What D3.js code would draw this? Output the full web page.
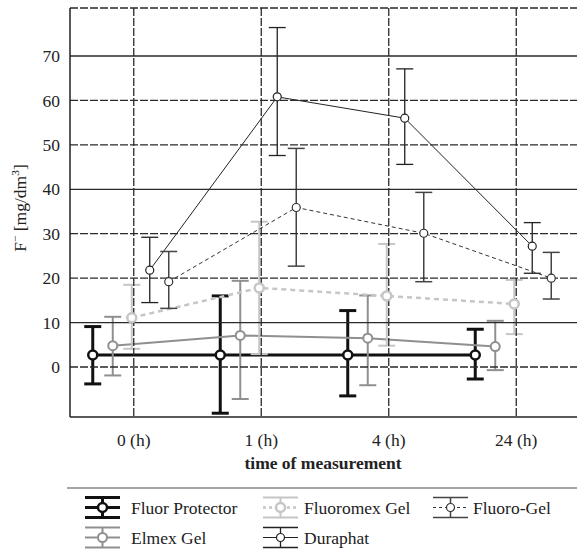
<!DOCTYPE html>
<html>
<head>
<meta charset="utf-8">
<script src="https://cdn.jsdelivr.net/npm/d3@7"></script>
<style>
  body { margin: 0; background: #fff; }
</style>
</head>
<body>
<svg width="577" height="555"></svg>
<script>
// data
let times = ['0 (h)', '1 (h)', '4 (h)', '24 (h)'];
let yTicks = [0, 10, 20, 30, 40, 50, 60, 70];
let seriesNames = ['Fluor Protector', 'Elmex Gel', 'Fluoromex Gel', 'Duraphat', 'Fluoro-Gel'];

let fluorProtectorMean = [2.7, 2.7, 2.7, 2.7];
let fluorProtectorHigh = [9.1, 16.0, 12.7, 8.5];
let fluorProtectorLow = [-3.8, -10.4, -6.5, -2.7];

let elmexMean = [4.8, 7.1, 6.5, 4.6];
let elmexHigh = [11.3, 19.4, 16.1, 10.4];
let elmexLow = [-1.9, -7.2, -4.1, -0.7];

let fluoromexMean = [11.1, 17.8, 16.0, 14.2];
let fluoromexHigh = [18.5, 32.7, 27.7, 19.6];
let fluoromexLow = [4.1, 2.9, 4.8, 7.4];

let duraphatMean = [21.8, 60.8, 56.0, 27.2];
let duraphatHigh = [29.2, 76.4, 67.1, 32.5];
let duraphatLow = [14.5, 47.6, 45.6, 21.1];

let fluoroGelMean = [19.2, 35.9, 30.1, 20.0];
let fluoroGelHigh = [26.0, 49.2, 39.3, 25.8];
let fluoroGelLow = [13.2, 22.7, 19.2, 15.3];

let svg = d3.select('svg');
let padLeft = 70, padRight = 580, padTop = 8, padBottom = 417;
let fs = 17.5;
let serif = "'Liberation Serif', Tinos, 'Noto Serif', FreeSerif, 'DejaVu Serif', serif";

let xScale = d3.scaleBand().domain(times).range([padLeft, padRight]);
let yScale = d3.scaleLinear().domain([-11.25, 80.8]).range([padBottom, padTop]);
let xc = t => xScale(t) + xScale.bandwidth() / 2;

// horizontal shift of each series inside a time slot
let offsets = [-41, -21, -2, 16, 35];
let styles = [
    { color: '#111', bar: '#111', width: 3, barWidth: 3, dash: null, r: 4.5 },
    { color: '#8f8f8f', bar: '#8f8f8f', width: 2, barWidth: 2, dash: null, r: 4.5 },
    { color: '#c6c6c6', bar: '#c6c6c6', width: 2.5, barWidth: 2, dash: '5,4', r: 4.5 },
    { color: '#222', bar: '#222', width: 1, barWidth: 1.3, dash: null, r: 4 },
    { color: '#333', bar: '#444', width: 1, barWidth: 1.5, dash: '4,3', r: 4 }
];

let series = [
    [fluorProtectorMean, fluorProtectorHigh, fluorProtectorLow],
    [elmexMean, elmexHigh, elmexLow],
    [fluoromexMean, fluoromexHigh, fluoromexLow],
    [duraphatMean, duraphatHigh, duraphatLow],
    [fluoroGelMean, fluoroGelHigh, fluoroGelLow]
].map((s, i) => ({
    name: seriesNames[i],
    style: styles[i],
    points: times.map((t, j) => ({ t: t, x: xc(t) + offsets[i], mean: s[0][j], hi: s[1][j], lo: s[2][j] }))
}));

let capW = 17;

// lines and error bars
let gSeries = svg.append('g');
series.forEach(s => {
    let st = s.style;
    gSeries.append('path')
        .datum(s.points)
        .attr('fill', 'none')
        .attr('stroke', st.color)
        .attr('stroke-width', st.width)
        .attr('stroke-dasharray', st.dash)
        .attr('d', d3.line().x(d => d.x).y(d => yScale(d.mean)));

    let bars = gSeries.append('g')
        .attr('stroke', st.bar)
        .attr('stroke-width', st.barWidth)
        .selectAll('g')
        .data(s.points)
        .enter()
        .append('g');
    bars.append('line')
        .attr('x1', d => d.x).attr('x2', d => d.x)
        .attr('y1', d => yScale(d.hi)).attr('y2', d => yScale(d.lo));
    bars.append('line')
        .attr('x1', d => d.x - capW / 2).attr('x2', d => d.x + capW / 2)
        .attr('y1', d => yScale(d.hi)).attr('y2', d => yScale(d.hi));
    bars.append('line')
        .attr('x1', d => d.x - capW / 2).attr('x2', d => d.x + capW / 2)
        .attr('y1', d => yScale(d.lo)).attr('y2', d => yScale(d.lo));
});

// grid
let grid = svg.append('g')
    .attr('stroke', '#2a2a2a')
    .attr('stroke-width', 1.3);

grid.selectAll('.hgrid')
    .data(yTicks)
    .enter()
    .append('line')
    .attr('x1', padLeft).attr('x2', padRight)
    .attr('y1', d => yScale(d)).attr('y2', d => yScale(d))
    .attr('stroke-dasharray', d => (d % 30 === 10) ? null : '8,2');

grid.append('line')
    .attr('x1', padLeft).attr('x2', padRight)
    .attr('y1', padTop).attr('y2', padTop)
    .attr('stroke-dasharray', '8,2');

grid.selectAll('.vgrid')
    .data(times)
    .enter()
    .append('line')
    .attr('x1', d => xc(d)).attr('x2', d => xc(d))
    .attr('y1', padTop).attr('y2', padBottom)
    .attr('stroke-dasharray', '8,2');

// circles on top
series.forEach(s => {
    svg.append('g')
        .selectAll('circle')
        .data(s.points)
        .enter()
        .append('circle')
        .attr('cx', d => d.x)
        .attr('cy', d => yScale(d.mean))
        .attr('r', s.style.r)
        .attr('fill', '#fff')
        .attr('stroke', s.style.color)
        .attr('stroke-width', Math.max(1.2, Math.min(s.style.width, 2.5)));
});

// axes
let yAxis = d3.axisLeft(yScale).tickValues(yTicks).tickSize(0).tickPadding(10);
let gy = svg.append('g')
    .attr('transform', 'translate(' + padLeft + ',0)')
    .call(yAxis)
    .attr('font-family', serif)
    .attr('font-size', fs);
gy.select('.domain').remove();
gy.selectAll('text').attr('fill', '#222');

let xAxis = d3.axisBottom(xScale).tickSize(0).tickPadding(17);
let gx = svg.append('g')
    .attr('transform', 'translate(0,' + padBottom + ')')
    .call(xAxis)
    .attr('font-family', serif)
    .attr('font-size', fs);
gx.select('.domain').remove();
gx.selectAll('text').attr('fill', '#222');

svg.append('line')
    .attr('x1', padLeft).attr('x2', padRight)
    .attr('y1', padBottom).attr('y2', padBottom)
    .attr('stroke', '#222').attr('stroke-width', 1.5);
svg.append('line')
    .attr('x1', padLeft).attr('x2', padLeft)
    .attr('y1', padTop).attr('y2', padBottom)
    .attr('stroke', '#222').attr('stroke-width', 1.5);

// axis titles
let yLabel = svg.append('text')
    .attr('transform', 'translate(26,208) rotate(-90)')
    .attr('text-anchor', 'middle')
    .attr('font-family', serif)
    .attr('font-size', fs)
    .attr('fill', '#222');
yLabel.append('tspan').text('F');
yLabel.append('tspan').attr('font-size', fs * 0.65).attr('dy', -7).text('−');
yLabel.append('tspan').attr('dy', 7).text(' [mg/dm');
yLabel.append('tspan').attr('font-size', fs * 0.65).attr('dy', -7).text('3');
yLabel.append('tspan').attr('dy', 7).text(']');

svg.append('text')
    .attr('x', (padLeft + padRight) / 2 - 2)
    .attr('y', 469)
    .attr('text-anchor', 'middle')
    .attr('font-family', serif)
    .attr('font-size', fs)
    .attr('font-weight', 'bold')
    .attr('fill', '#222')
    .text('time of measurement');

// legend
svg.append('line')
    .attr('x1', 67).attr('x2', 577)
    .attr('y1', 488).attr('y2', 488)
    .attr('stroke', '#888').attr('stroke-width', 1.5);

let legendPos = [
    { x: 85, y: 507.5, tx: 131 },
    { x: 85, y: 537.5, tx: 131 },
    { x: 263, y: 507.5, tx: 304 },
    { x: 263, y: 537.5, tx: 304 },
    { x: 433, y: 507.5, tx: 473 }
];
let symW = 35, symH = 20;

series.forEach((s, i) => {
    let st = s.style;
    let p = legendPos[i];
    let g = svg.append('g').attr('transform', 'translate(' + p.x + ',' + p.y + ')');
    let gb = g.append('g').attr('stroke', st.bar).attr('stroke-width', st.barWidth);
    gb.append('line').attr('x1', 0).attr('x2', symW).attr('y1', -symH / 2).attr('y2', -symH / 2);
    gb.append('line').attr('x1', 0).attr('x2', symW).attr('y1', symH / 2).attr('y2', symH / 2);
    gb.append('line').attr('x1', symW / 2).attr('x2', symW / 2).attr('y1', -symH / 2).attr('y2', symH / 2);
    g.append('line')
        .attr('x1', 0).attr('x2', symW).attr('y1', 0).attr('y2', 0)
        .attr('stroke', st.color)
        .attr('stroke-width', st.width)
        .attr('stroke-dasharray', st.dash ? '3,3' : null);
    g.append('circle')
        .attr('cx', symW / 2).attr('cy', 0).attr('r', st.r)
        .attr('fill', '#fff')
        .attr('stroke', st.color)
        .attr('stroke-width', Math.max(1.2, Math.min(st.width, 2.5)));
    g.append('text')
        .attr('x', p.tx - p.x)
        .attr('y', 6)
        .attr('font-family', serif)
        .attr('font-size', fs)
        .attr('fill', '#222')
        .text(s.name);
});
</script>
</body>
</html>
